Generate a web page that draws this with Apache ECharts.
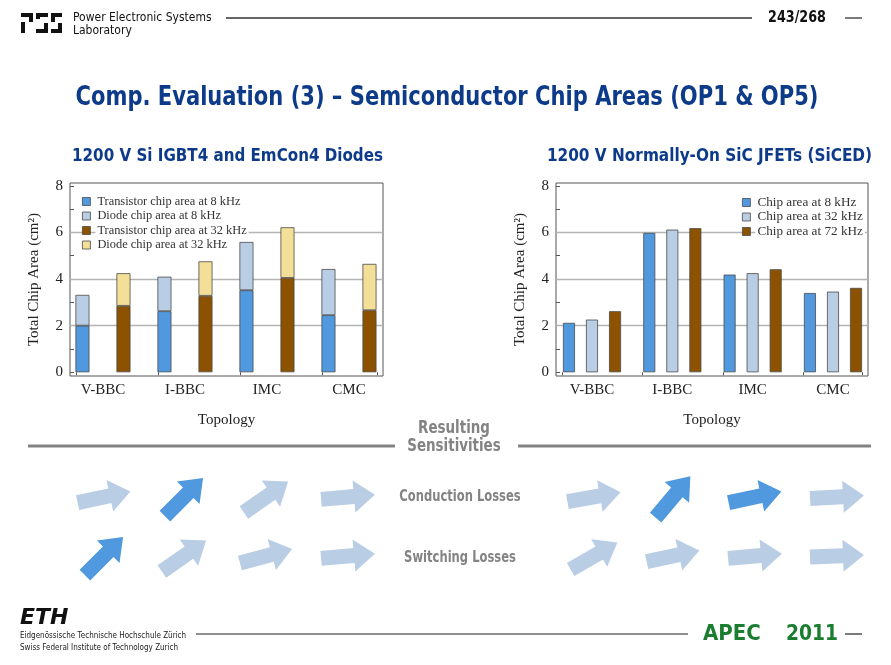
<!DOCTYPE html>
<html>
<head>
<meta charset="utf-8">
<script src="https://cdn.jsdelivr.net/npm/echarts@6/dist/echarts.min.js"></script>
<style>
  html, body { margin: 0; padding: 0; background: #fff; }
  #chart { width: 891px; height: 665px; }
</style>
</head>
<body>
<div id="chart"></div>
<script>
// chart data (cm²)
const topologies = ['V-BBC', 'I-BBC', 'IMC', 'CMC'];
const siTransistor8 = [2.00, 2.62, 3.52, 2.45];
const siDiode8 = [1.32, 1.48, 2.07, 1.98];
const siTransistor32 = [2.85, 3.28, 4.05, 2.66];
const siDiode32 = [1.40, 1.48, 2.17, 1.99];
const sicArea8 = [2.12, 5.98, 4.19, 3.40];
const sicArea32 = [2.26, 6.12, 4.25, 3.46];
const sicArea72 = [2.62, 6.18, 4.42, 3.62];
const yTickLabels = [0, 2, 4, 6, 8];
const yGridLines = [2, 4, 6];

// sensitivity arrows: tilt in degrees, strong = dark blue
const conductionTilt = [12, 45, 35, 5, 10, 50, 12, 3];
const conductionStrong = [false, true, false, false, false, true, true, false];
const switchingTilt = [45, 35, 15, 5, 30, 12, 5, 2];
const switchingStrong = [true, false, false, false, false, false, false, false];

const BLUE = '#5099de', LIGHT = '#b9cde5', BROWN = '#8c5200', SAND = '#f3df98';
const TITLE_BLUE = '#0d3b8a';
const SANS = "'DejaVu Sans', sans-serif";
const SERIF = "'Liberation Serif', 'DejaVu Serif', serif";

const chart = echarts.init(document.getElementById('chart'));

// topologies sit at x = 1..4 on a value axis so the frame margins match the slide.
// value goes first in each row (encode swaps it) so stacking runs on the y values.
const positions = topologies.map((t, i) => i + 1);
const rows = vals => vals.map((v, i) => [v, positions[i]]);

const grids = [
  { left: 70, top: 183, width: 313, height: 193 },
  { left: 556, top: 183, width: 312, height: 193 }
];
const xRanges = [[0.598, 4.415], [0.552, 4.436]];
const xTickMarks = [[0.67, 1.67, 2.67, 3.67, 4.34], [0.63, 1.63, 2.63, 3.63, 4.36]];

const xAxis = grids.map((g, i) => ({
  type: 'value', gridIndex: i, min: xRanges[i][0], max: xRanges[i][1],
  axisLine: { show: false }, splitLine: { show: false },
  axisTick: { show: true, inside: false, length: 3, customValues: xTickMarks[i], lineStyle: { color: '#555' } },
  axisLabel: {
    customValues: positions, formatter: v => topologies[Math.round(v) - 1],
    color: '#222', fontFamily: SERIF, fontSize: 15, margin: 7
  },
  name: 'Topology', nameLocation: 'middle', nameGap: 37,
  nameTextStyle: { color: '#222', fontFamily: SERIF, fontSize: 15 }
}));

const yAxis = grids.map((g, i) => ({
  type: 'value', gridIndex: i, min: -0.16, max: 8.12,
  axisLine: { show: false },
  axisTick: { show: true, inside: true, length: 4, customValues: [0, 1, 2, 3, 4, 5, 6, 7, 8], lineStyle: { color: '#555' } },
  axisLabel: { customValues: yTickLabels, color: '#222', fontFamily: SERIF, fontSize: 15, margin: 7 },
  splitLine: { show: false },
  name: 'Total Chip Area (cm²)', nameLocation: 'middle', nameGap: 28,
  nameTextStyle: { color: '#222', fontFamily: SERIF, fontSize: 15 }
}));

const barBorder = { borderColor: '#4a4a4a', borderWidth: 0.8 };
const gridMark = {
  silent: true, symbol: 'none', z: 1,
  label: { show: false },
  lineStyle: { color: '#b4b4b4', width: 1.4, type: 'solid' },
  data: yGridLines.map(v => ({ yAxis: v }))
};

function siBar(name, vals, color, stack, mark) {
  return {
    name, type: 'bar', xAxisIndex: 0, yAxisIndex: 0, stack,
    data: rows(vals), encode: { x: 1, y: 0 },
    barWidth: 14, barGap: '193%', z: 2,
    itemStyle: Object.assign({ color }, barBorder),
    markLine: mark ? gridMark : undefined
  };
}
function sicBar(name, vals, color, mark) {
  return {
    name, type: 'bar', xAxisIndex: 1, yAxisIndex: 1,
    data: rows(vals), encode: { x: 1, y: 0 },
    barWidth: 12, barGap: '92%', z: 2,
    itemStyle: Object.assign({ color }, barBorder),
    markLine: mark ? gridMark : undefined
  };
}

const series = [
  siBar('Transistor chip area at 8 kHz', siTransistor8, BLUE, 'f8', true),
  siBar('Diode chip area at 8 kHz', siDiode8, LIGHT, 'f8'),
  siBar('Transistor chip area at 32 kHz', siTransistor32, BROWN, 'f32'),
  siBar('Diode chip area at 32 kHz', siDiode32, SAND, 'f32'),
  sicBar('Chip area at 8 kHz', sicArea8, BLUE, true),
  sicBar('Chip area at 32 kHz', sicArea32, LIGHT),
  sicBar('Chip area at 72 kHz', sicArea72, BROWN)
];

const legendBase = {
  orient: 'vertical', icon: 'rect', itemWidth: 8, itemHeight: 8,
  selectedMode: false, padding: [1, 4, 1, 2],
  itemStyle: { borderColor: '#4a4a4a', borderWidth: 0.8 }
};
const legend = [
  Object.assign({}, legendBase, {
    left: 80, top: 194.5, itemGap: 2.5,
    textStyle: { color: '#333', fontFamily: SERIF, fontSize: 12.4, backgroundColor: '#fff', padding: [0, 2, 0, 2] },
    data: series.slice(0, 4).map(s => s.name)
  }),
  Object.assign({}, legendBase, {
    left: 740, top: 195, itemGap: 1.5,
    textStyle: { color: '#333', fontFamily: SERIF, fontSize: 13.2, backgroundColor: '#fff', padding: [0, 2, 0, 2] },
    data: series.slice(4).map(s => s.name)
  })
];

// decorative slide furniture
function text(x, y, t, style, sx) {
  return { type: 'text', x, y, scaleX: sx || 1, silent: true, style: Object.assign({ text: t }, style) };
}
function hline(x1, x2, y, color, w) {
  return { type: 'line', silent: true, shape: { x1, y1: y, x2, y2: y }, style: { stroke: color, lineWidth: w } };
}
function box(x, y, w, h, fill) {
  return { type: 'rect', silent: true, shape: { x, y, width: w, height: h }, style: { fill } };
}
function arrow(cx, cy, tilt, strong) {
  return {
    type: 'polygon', silent: true, x: cx, y: cy, rotation: tilt * Math.PI / 180,
    shape: { points: [[-27, -7.5], [6, -7.5], [6, -16], [27, 0], [6, 16], [6, 7.5], [-27, 7.5]] },
    style: { fill: strong ? BLUE : LIGHT }
  };
}
const mid = { align: 'center', verticalAlign: 'middle' };
const gray = '#838383';

const arrowCols = [104, 184, 266, 348, 594, 673, 755, 837];
const graphics = [
  // PES logo
  box(21, 13, 12, 4, '#111'), box(29, 13, 4, 9, '#111'), box(21, 22, 4, 11, '#111'),
  box(36, 13, 12, 4, '#111'), box(36, 13, 4, 6, '#111'), box(36, 29, 12, 4, '#111'), box(44, 23, 4, 10, '#111'),
  box(51, 13, 11, 4, '#111'), box(51, 13, 4, 9, '#111'), box(58, 23, 4, 10, '#111'), box(51, 29, 11, 4, '#111'),
  text(73, 18, 'Power Electronic Systems', { fill: '#111', font: '13px ' + SANS, verticalAlign: 'middle' }, 0.83),
  text(73, 31, 'Laboratory', { fill: '#111', font: '13px ' + SANS, verticalAlign: 'middle' }, 0.83),
  hline(226, 752, 18, '#333', 1.3),
  text(797, 18, '243/268', Object.assign({ fill: '#111', font: 'bold 15px ' + SANS }, mid), 0.85),
  hline(845, 862, 18, '#333', 1.3),
  // titles
  text(447, 98, 'Comp. Evaluation (3) \u2013 Semiconductor Chip Areas (OP1 & OP5)',
    Object.assign({ fill: TITLE_BLUE, font: 'bold 27px ' + SANS }, mid), 0.78),
  text(227.5, 157, '1200 V Si IGBT4 and EmCon4 Diodes',
    Object.assign({ fill: TITLE_BLUE, font: 'bold 17px ' + SANS }, mid), 0.89),
  text(709.5, 157, '1200 V Normally-On SiC JFETs (SiCED)',
    Object.assign({ fill: TITLE_BLUE, font: 'bold 17px ' + SANS }, mid), 0.9),
  // sensitivities
  hline(28, 395, 446, gray, 3),
  hline(518, 871, 446, gray, 3),
  text(454, 429, 'Resulting', Object.assign({ fill: gray, font: 'bold 17px ' + SANS }, mid), 0.79),
  text(454, 447, 'Sensitivities', Object.assign({ fill: gray, font: 'bold 17px ' + SANS }, mid), 0.79),
  text(460, 497, 'Conduction Losses', Object.assign({ fill: gray, font: 'bold 15px ' + SANS }, mid), 0.77),
  text(460, 558, 'Switching Losses', Object.assign({ fill: gray, font: 'bold 15px ' + SANS }, mid), 0.77),
  // footer
  text(20, 618, 'ETH', { fill: '#111', font: 'italic bold 22px ' + SANS, verticalAlign: 'middle' }, 1.0),
  text(20, 636, 'Eidgenössische Technische Hochschule Zürich', { fill: '#222', font: '8px ' + SANS, verticalAlign: 'middle' }, 0.9),
  text(20, 648, 'Swiss Federal Institute of Technology Zurich', { fill: '#222', font: '8px ' + SANS, verticalAlign: 'middle' }, 0.9),
  hline(196, 688, 634, '#222', 1.2),
  text(703, 634, 'APEC', { fill: '#1b7d30', font: 'bold 22px ' + SANS, verticalAlign: 'middle' }, 0.9),
  text(838, 634, '2011', { fill: '#1b7d30', font: 'bold 22px ' + SANS, align: 'right', verticalAlign: 'middle' }, 0.85),
  hline(845, 862, 634, '#222', 1.2)
];
arrowCols.forEach((x, i) => {
  graphics.push(arrow(x, 497, conductionTilt[i], conductionStrong[i]));
  graphics.push(arrow(x, 556, switchingTilt[i], switchingStrong[i]));
});

chart.setOption({
  animation: false,
  grid: grids.map(g => Object.assign({ show: true, borderColor: '#555', borderWidth: 1, backgroundColor: 'transparent' }, g)),
  xAxis, yAxis, legend, series,
  graphic: { elements: graphics }
});
</script>
</body>
</html>
